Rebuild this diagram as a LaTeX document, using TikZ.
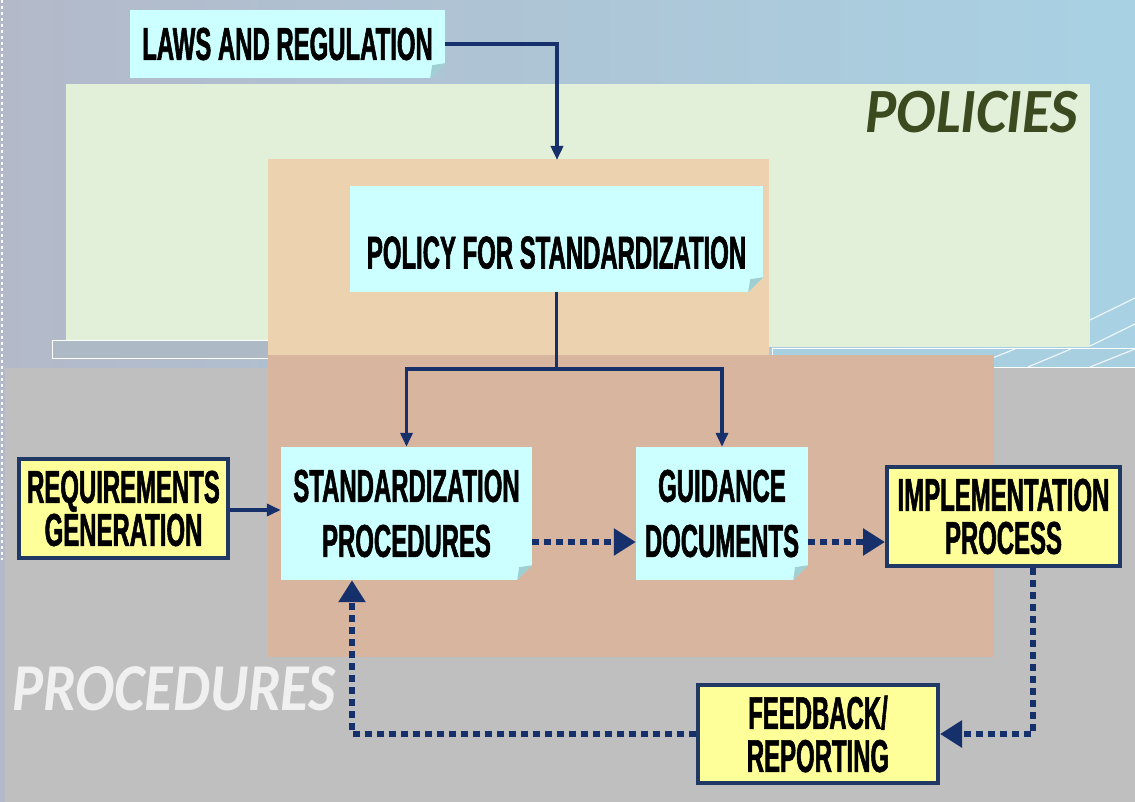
\documentclass[tikz,border=0pt]{standalone}
\usepackage{fontspec}
\usetikzlibrary{arrows.meta}
\newfontfamily\boxfont{Liberation Sans}[FakeStretch=0.52,FakeBold=1.2]
\newfontfamily\labfont{Carlito}[FakeStretch=0.93]
\newfontfamily\labfontb{Carlito}[FakeStretch=0.87]
\definecolor{bgleft}{HTML}{B3B9C9}
\definecolor{bgright}{HTML}{A8D2E4}
\definecolor{greenc}{HTML}{E2EFD9}
\definecolor{orangeup}{HTML}{EDD2AF}
\definecolor{orangelo}{HTML}{D8B59E}
\definecolor{grayc}{HTML}{BFBFBF}
\definecolor{cyanc}{HTML}{CCFFFF}
\definecolor{foldc}{HTML}{9FCFD2}
\definecolor{yellowc}{HTML}{FFFF99}
\definecolor{navy}{HTML}{1F3864}
\definecolor{arrowc}{HTML}{15306B}
\definecolor{olive}{HTML}{3B4A1F}
\definecolor{barleft}{HTML}{AEB9C6}
\definecolor{barright}{HTML}{A8CFE0}
\newcommand\foldcorner[2]{%
  \fill[#2] ([xshift=-15pt]#1.south east) -- (#1.south east) -- ([yshift=15pt]#1.south east) -- cycle;
  \fill[foldc] ([xshift=-15pt]#1.south east) -- ([yshift=15pt]#1.south east) -- ([xshift=-13pt,yshift=13pt]#1.south east) -- cycle;}
\begin{document}
\begin{tikzpicture}[x=1pt,y=-1pt,
  cyanbox/.style={fill=cyanc, inner sep=0pt, align=center,
    font=\boxfont\bfseries\fontsize{46}{55}\selectfont},
  yellowbox/.style={fill=yellowc, draw=navy, line width=4pt, inner sep=0pt, align=center,
    font=\boxfont\bfseries\fontsize{46}{43}\selectfont},
  sarrow/.style={draw=arrowc, line width=3.5pt, -{Triangle[length=14pt,width=12pt]}},
  sline/.style={draw=arrowc, line width=3.5pt},
  darrow/.style={draw=arrowc, line width=5.5pt, dash pattern=on 7pt off 5pt,
    -{Triangle[length=22pt,width=26pt]}},
  biglabel/.style={inner sep=0pt}]
\useasboundingbox (0,0) rectangle (1135,802);
% background
\shade[left color=bgleft, right color=bgright] (0,0) rectangle (1135,368);
\fill[bgleft] (0,368) rectangle (5,802);
\draw[white, line width=1.5pt, dash pattern=on 3pt off 3pt] (2,0) -- (2,560);
\fill[grayc] (5,368) rectangle (1135,802);
\fill[greenc] (66,84) rectangle (1090,347);
\draw[white, opacity=0.8, line width=1.2pt] (1090,320) -- (1135,298) (1090,346) -- (1135,324);
\filldraw[fill=barleft, draw=white, line width=1pt] (52,340) rectangle (268,358);
\filldraw[fill=barright, draw=white, line width=1pt] (772,348) rectangle (1136,367);
\draw[white, opacity=0.8, line width=1.2pt] (970,367) -- (1015,349) (1028,367) -- (1071,349) (1090,367) -- (1135,349);
\fill[orangeup] (268,159) rectangle (769,355);
\fill[orangelo] (268,355) rectangle (994,657);
\node[biglabel, text=olive, anchor=base east, font=\labfont\bfseries\itshape\fontsize{63}{63}\selectfont] (policies) at (1078,133) {POLICIES};
\node[biglabel, text=white!94!black, anchor=base west, font=\labfontb\bfseries\itshape\fontsize{67}{67}\selectfont] (procedures) at (12,710) {PROCEDURES};
% nodes
\node[cyanbox, minimum width=315, minimum height=68] (laws) at (287.5,44) {LAWS AND REGULATION};
\foldcorner{laws}{bgleft!50!bgright}
\node[cyanbox, minimum width=413, minimum height=106, text height=59pt, text depth=0pt] (policy) at (556.5,239) {POLICY FOR STANDARDIZATION};
\foldcorner{policy}{orangeup}
\node[cyanbox, minimum width=251, minimum height=133] (std) at (406.5,513.5) {STANDARDIZATION\\PROCEDURES};
\foldcorner{std}{orangelo}
\node[cyanbox, minimum width=172, minimum height=133] (guid) at (722,513.5) {GUIDANCE\\DOCUMENTS};
\foldcorner{guid}{orangelo}
\node[yellowbox, minimum width=209, minimum height=99] (req) at (123.5,508.5) {REQUIREMENTS\\GENERATION};
\node[yellowbox, minimum width=233, minimum height=99] (impl) at (1003.5,516.5) {IMPLEMENTATION\\PROCESS};
\node[yellowbox, minimum width=240, minimum height=98] (feed) at (818,734) {FEEDBACK/\\REPORTING};
% connectors
\coordinate (lawsend) at (557,160);
\coordinate (split) at (556.5,369);
\draw[sarrow] (laws.east) -| (lawsend);
\draw[sline] (policy.south) -- (split);
\draw[sarrow] (split) -| (std.north);
\draw[sarrow] (split) -| (guid.north);
\draw[sarrow] ([yshift=-1.5pt]req.east) -- ([yshift=-1.5pt]req.east -| std.west);
\draw[darrow] ([yshift=-28.5pt]std.east) -- ([yshift=-28.5pt]std.east -| guid.west);
\draw[darrow] ([yshift=-28.5pt]guid.east) -- ([yshift=-28.5pt]guid.east -| impl.west);
\draw[darrow] ([xshift=29.5pt]impl.south) |- (feed.east);
\draw[darrow] (feed.west) -| ([xshift=-54.5pt]std.south);
\end{tikzpicture}
\end{document}
